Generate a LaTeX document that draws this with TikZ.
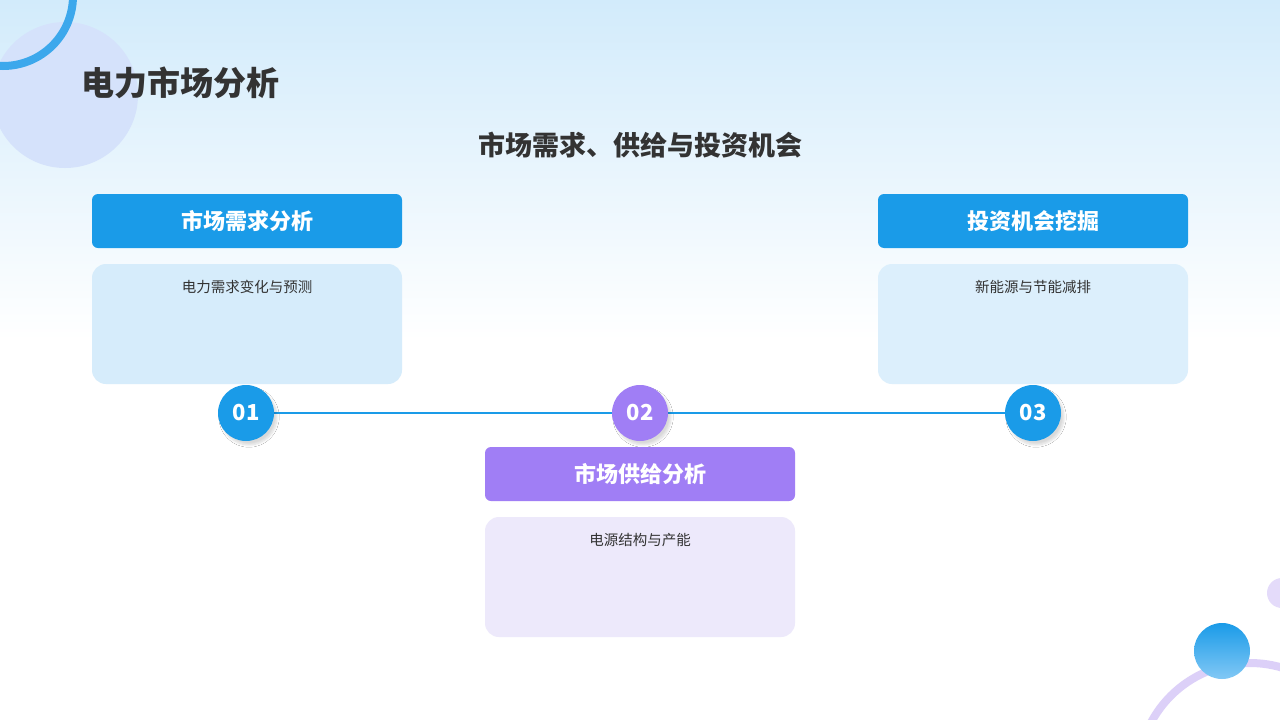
\documentclass[tikz,border=0pt]{standalone}
\usepackage{fontspec}
\setmainfont{Noto Sans CJK SC}
\usetikzlibrary{shadows.blur}
\definecolor{bluec}{HTML}{1A9BE8}
\definecolor{purc}{HTML}{A07EF5}
\definecolor{txt}{HTML}{333333}
\definecolor{bgtop}{RGB}{210,235,251}
\definecolor{circA}{RGB}{213,226,251}
\definecolor{arcL}{RGB}{140,200,245}
\definecolor{arcB}{RGB}{220,208,248}
\definecolor{dotP}{RGB}{228,219,250}
\definecolor{ballL}{RGB}{130,200,245}
\definecolor{bodyA}{RGB}{214,236,251}
\definecolor{bodyC}{RGB}{220,239,252}
\definecolor{bodyB}{RGB}{237,233,251}
\begin{document}
\begin{tikzpicture}[x=1pt,y=-1pt,
  hdr/.style={rounded corners=6pt,minimum width=310pt,minimum height=54pt,inner sep=0pt,text=white,font=\fontsize{22}{26}\selectfont\bfseries},
  body/.style={rounded corners=14pt,minimum width=310pt,minimum height=120pt,inner sep=0pt},
  num/.style={circle,minimum size=56pt,inner sep=0pt,text=white,font=\fontsize{22}{26}\selectfont\bfseries,blur shadow={shadow blur steps=8,shadow xshift=3pt,shadow yshift=-4pt,shadow opacity=15}},
  small/.style={text=txt,font=\fontsize{14.5}{17}\selectfont}]
\useasboundingbox (0,0) rectangle (1280,720);
\shade[top color=bgtop,bottom color=white] (0,0) rectangle (1280,340);
\fill[white] (0,340) rectangle (1280,720);
\fill[circA] (65,95) circle (73);
\begin{scope}
\clip (0,0) rectangle (1280,720);
\draw[line width=8pt,draw=bluec!70!arcL] (3,-4) circle (70);
\draw[line width=8pt,draw=arcB] (1250,775) circle (112);
\fill[dotP] (1282,593) circle (15);
\end{scope}
\shade[top color=bluec,bottom color=ballL] (1222,651) circle (28);
\node[anchor=west,text=txt,font=\fontsize{33}{38}\selectfont\bfseries] (title) at (78,83) {电力市场分析};
\node[text=txt,font=\fontsize{27}{32}\selectfont\bfseries] (sub) at (640,145) {市场需求、供给与投资机会};
\draw[bluec,line width=2pt] (246,413) -- (1033,413);
\node[num,fill=bluec] (n1) at (246,413) {01};
\node[num,fill=purc] (n2) at (640,413) {02};
\node[num,fill=bluec] (n3) at (1033,413) {03};
\node[hdr,fill=bluec] (h1) at (247,221) {市场需求分析};
\node[body,fill=bodyA] (b1) at (247,324) {};
\node[small] (t1) at (247,287) {电力需求变化与预测};
\node[hdr,fill=bluec] (h3) at (1033,221) {投资机会挖掘};
\node[body,fill=bodyC] (b3) at (1033,324) {};
\node[small] (t3) at (1033,287) {新能源与节能减排};
\node[hdr,fill=purc] (h2) at (640,474) {市场供给分析};
\node[body,fill=bodyB] (b2) at (640,577) {};
\node[small] (t2) at (640,540) {电源结构与产能};
\end{tikzpicture}
\end{document}
